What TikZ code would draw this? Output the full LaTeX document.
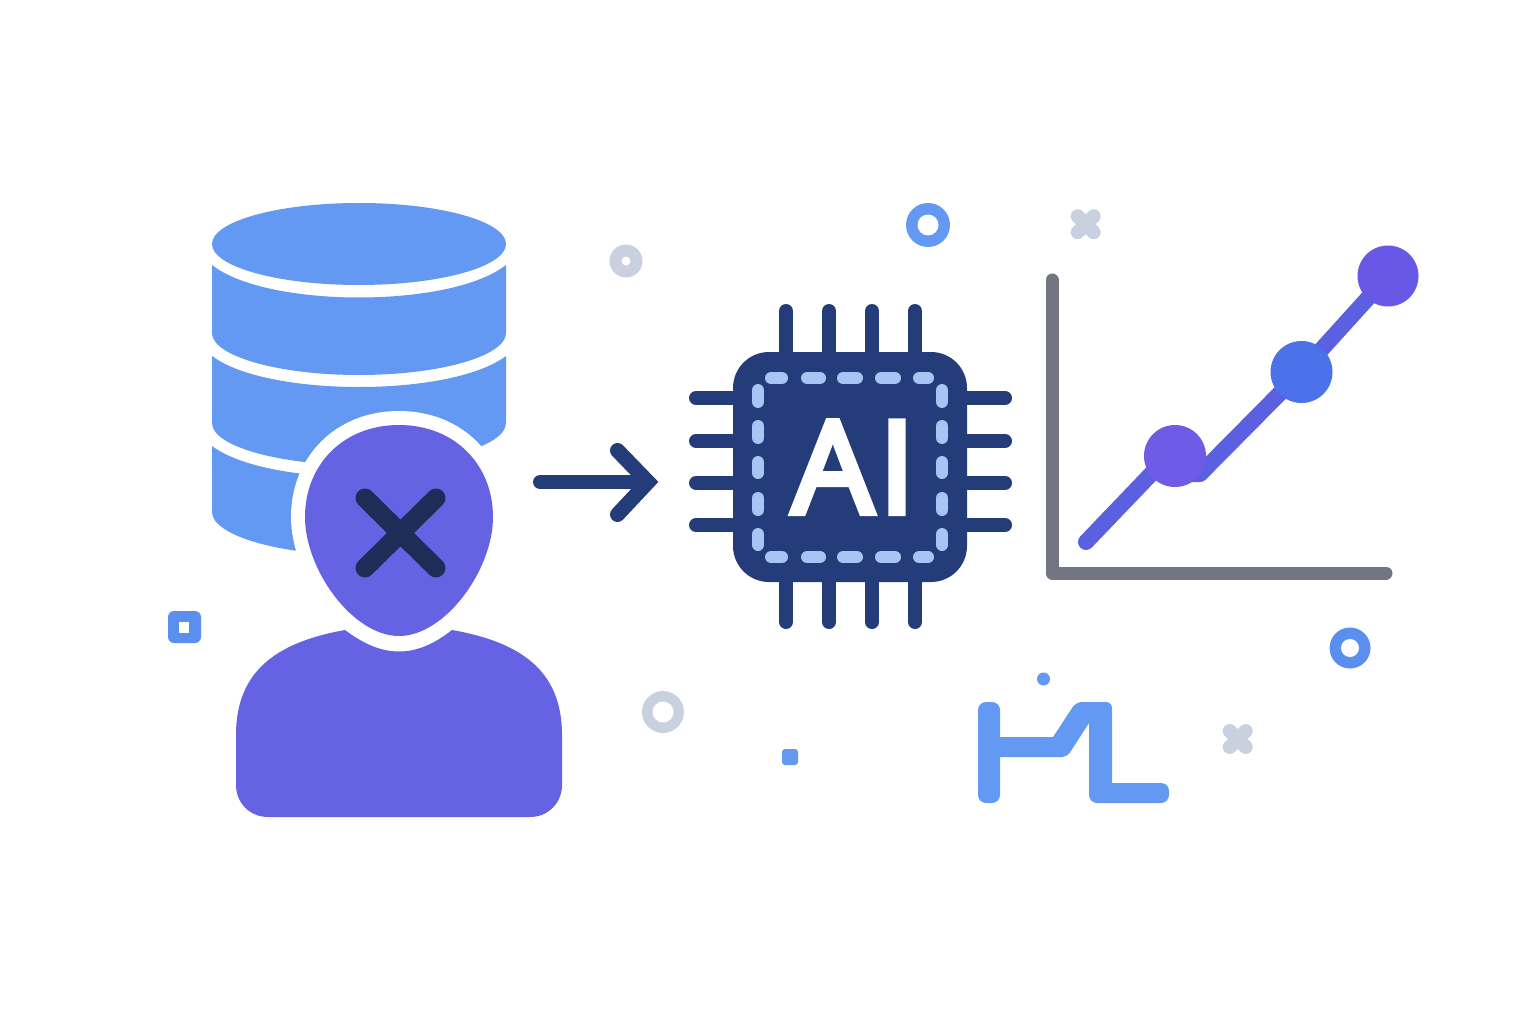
\documentclass[tikz,border=0pt]{standalone}
\usepackage{fontspec}
\setmainfont{Open Sans}
\newfontfamily\chipfont[FakeBold=5]{Open Sans}
\definecolor{dbblue}{HTML}{6399F3}
\definecolor{person}{HTML}{6562E3}
\definecolor{navy}{HTML}{243C7A}
\definecolor{xdark}{HTML}{1E2D58}
\definecolor{dashblue}{HTML}{A8C4F5}
\definecolor{axisgray}{HTML}{737682}
\definecolor{trend}{HTML}{5B60E0}
\definecolor{paleg}{HTML}{C9D1E0}
\definecolor{ringblue}{HTML}{5B8FEF}
\definecolor{dotone}{HTML}{6F5BE5}
\definecolor{dottwo}{HTML}{4B72E8}
\definecolor{dotthree}{HTML}{6759E5}
\tikzset{
  pin/.style={draw=navy,line width=14pt,line cap=round},
  chipdash/.style={draw=dashblue,line width=12pt,line cap=round},
  crossmark/.style={draw=paleg,line width=14pt,line cap=round},
  holefill/.style={fill=white}
}
\begin{document}
\begin{tikzpicture}[x=1pt,y=-1pt]
\useasboundingbox (0,0) rectangle (1536,1024);
\fill[white] (0,0) rectangle (1536,1024);
% database
\fill[dbblue] (359,244) ellipse [x radius=147, y radius=41];
\fill[dbblue] (212,265) .. controls (240,287) and (300,297.5) .. (359,297.5) .. controls (418,297.5) and (478,287) .. (506,265)
  -- (506,333) .. controls (506,356) and (440,375) .. (359,375) .. controls (278,375) and (212,356) .. (212,333) -- cycle;
\fill[dbblue] (212,356) .. controls (240,377) and (300,387) .. (359,387) .. controls (418,387) and (478,377) .. (506,356)
  -- (506,423) .. controls (506,446) and (440,465) .. (359,465) .. controls (278,465) and (212,446) .. (212,423) -- cycle;
\fill[dbblue] (212,446) .. controls (240,467) and (300,477) .. (359,477) -- (399,477) -- (399,555) -- (359,555) .. controls (278,555) and (212,535) .. (212,512) -- cycle;
% body
\fill[person] (345,630) .. controls (365,645) and (382,651.5) .. (399,651.5) .. controls (416,651.5) and (433,645) .. (452,630)
  .. controls (520,642) and (562,670) .. (562,735) -- (562,785) .. controls (562,803) and (548,817) .. (530,817)
  -- (268,817) .. controls (250,817) and (236,803) .. (236,785) -- (236,735) .. controls (236,670) and (278,642) .. (345,630) -- cycle;
% head with halo
\path[fill=person,draw=white,line width=28pt,line join=round] (399,425) .. controls (455,425) and (493,465) .. (493,517)
  .. controls (493,570) and (445,636) .. (399,636) .. controls (353,636) and (305,570) .. (305,517) .. controls (305,465) and (343,425) .. (399,425) -- cycle;
\fill[person] (399,425) .. controls (455,425) and (493,465) .. (493,517)
  .. controls (493,570) and (445,636) .. (399,636) .. controls (353,636) and (305,570) .. (305,517) .. controls (305,465) and (343,425) .. (399,425) -- cycle;
\draw[xdark,line width=19pt,line cap=round] (365,498) -- (436,568) (436,498) -- (365,568);
% arrow
\coordinate (arrowtail) at (540,482);
\coordinate (arrowtip) at (648,482);
\coordinate (barbup) at (617.5,450.5);
\coordinate (barbdown) at (617.5,514.5);
\draw[navy,line width=14pt,line cap=round] (arrowtail) -- (arrowtip);
\draw[navy,line width=15pt,line cap=round,line join=miter] (barbup) -- (arrowtip) -- (barbdown);
% chip pins
\foreach \px in {786,829,872,915} \draw[pin] (\px,311) -- (\px,622);
\foreach \py in {398,441,483,525} \draw[pin] (696,\py) -- (1005,\py);
% chip body
\fill[navy,rounded corners=36pt] (733,352) rectangle (967,582);
% dashes
\foreach \a/\b in {771/782,807/820,843/857,881/895,919/928} {
  \draw[chipdash] (\a,378) -- (\b,378);
  \draw[chipdash] (\a,557) -- (\b,557);
}
\foreach \a/\b in {390/402,426/438,462/473,498/510,534/545} {
  \draw[chipdash] (758,\a) -- (758,\b);
  \draw[chipdash] (942,\a) -- (942,\b);
}
\node[anchor=base west,inner sep=0pt,text=white] (chiplabel) at (792,513) {\fontsize{128}{128}\selectfont\chipfont A\kern6pt I};
% chart
\draw[axisgray,line width=13pt,line cap=round,line join=round] (1052,280) -- (1052,573) -- (1386,573);
\draw[trend,line width=16pt,line cap=round] (1086,542) -- (1176,448);
\draw[trend,line width=16pt,line cap=round,line join=round] (1180,474) -- (1200,474) -- (1301,372) -- (1388,276);
\fill[dotone] (1175,456) circle [radius=31];
\fill[dottwo] (1301.5,372) circle [radius=31];
\fill[dotthree] (1388,276) circle [radius=30.5];
% decorations
\fill[paleg] (626,261) circle [radius=16.5];
\fill[holefill] (626,261) circle [radius=4.5];
\fill[dbblue] (928,225) circle [radius=22];
\fill[holefill] (928,225) circle [radius=10.5];
\fill[paleg] (663,712) circle [radius=21];
\fill[holefill] (663,712) circle [radius=10.5];
\fill[ringblue] (1350,648) circle [radius=20.5];
\fill[holefill] (1350,648) circle [radius=9];
\fill[dbblue] (1043.5,679) circle [radius=6.5];
\fill[dbblue,rounded corners=3pt] (782,749) rectangle (798,765);
\fill[ringblue,rounded corners=6pt] (168,611) rectangle (201,643);
\fill[holefill] (179,622) rectangle (189,633);
\draw[crossmark] (1077.7,216.2) -- (1093.7,232.2) (1093.7,216.2) -- (1077.7,232.2);
\draw[crossmark] (1229.7,731) -- (1245.7,747) (1245.7,731) -- (1229.7,747);
% bracket glyph
\fill[dbblue,rounded corners=8pt] (978,702) rectangle (1000,803);
\fill[dbblue] (995,737) [sharp corners] -- (1053,737) [rounded corners=6pt] -- (1076,702) -- (1112,702) [sharp corners] -- (1112,783) [rounded corners=8pt] -- (1169,783) -- (1169,803) -- (1089,803) [sharp corners] -- (1089,723) [rounded corners=5pt] -- (1067,757) [sharp corners] -- (995,757) -- cycle;
\end{tikzpicture}
\end{document}
